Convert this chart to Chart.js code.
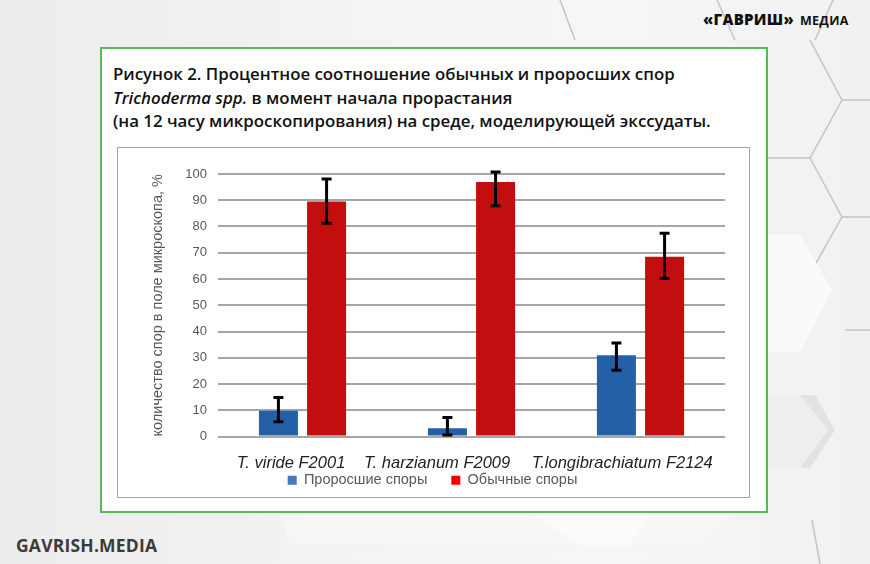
<!DOCTYPE html>
<html>
<head>
<meta charset="utf-8">
<script src="https://cdn.jsdelivr.net/npm/chart.js@4.4.1/dist/chart.umd.min.js"></script>
<style>
  html, body { margin: 0; padding: 0; }
  body { width: 870px; height: 564px; position: relative; overflow: hidden;
         background: linear-gradient(90deg, #ececec 0%, #f3f3f3 40%, #f6f6f6 70%, #f1f1f1 100%);
         font-family: "Open Sans", "Liberation Sans", sans-serif; }
  #bg { position: absolute; left: 0; top: 0; }
  #logoTop { position: absolute; left: 703px; top: 9px; font-weight: 800; font-size: 15px; color: #111; white-space: nowrap; letter-spacing: 0.3px; }
  #logoTop span { font-size: 12.5px; font-weight: 700; margin-left: 6px; }
  #logoBottom { position: absolute; left: 16px; top: 533px; font-weight: 700; font-size: 17.5px; color: #3b3b3b; letter-spacing: 0.2px; }
  #frame { position: absolute; left: 100px; top: 47px; width: 664px; height: 462px; border: 2.5px solid #55b955; background: #fff; }
  #title { position: absolute; left: 113px; top: 62px; font-weight: 600; font-size: 17px; line-height: 23.5px; color: #111;
           transform: scaleX(0.99); transform-origin: 0 0; white-space: nowrap; }
  #inner { position: absolute; left: 117px; top: 147px; width: 631px; height: 349px; border: 1.5px solid #a6a6a6; background: #fff; }
  #wrap { position: absolute; left: 118px; top: 148px; width: 632px; height: 350px; }
</style>
</head>
<body>
<svg id="bg" width="870" height="564" xmlns="http://www.w3.org/2000/svg">
  <g fill="none" stroke="#c4c4c4" stroke-width="1.5">
    <polyline points="810,40 842,100 870,100"/>
    <polyline points="842,100 810,158 760,158"/>
    <polyline points="810,158 842,217 870,217"/>
    <polyline points="842,217 815,265"/>
    <polyline points="717,0 735,40"/>
    <polyline points="833,0 815,40"/>
    <polyline points="560,0 575,40"/>
    <polyline points="845,330 870,330"/>
    <polyline points="812,520 820,564"/>
  </g>
  <polygon points="760,235 800,235 832,290 800,352 760,352" fill="#fafafa"/>
  <polygon points="760,395 815,395 835,430 810,468 760,468" fill="#e2e2e2"/>
  <polygon points="760,395 800,395 828,430 800,468 760,468" fill="#f7f7f7" opacity="0.6"/>
  <polygon points="280,513 730,513 700,545 290,545" fill="#f8f8f8" opacity="0.7"/>
  <polygon points="530,513 580,545 630,545 650,513" fill="#fbfbfb"/>
</svg>
<div id="logoTop">«ГАВРИШ»<span>МЕДИА</span></div>
<div id="logoBottom">GAVRISH.MEDIA</div>
<div id="frame"></div>
<div id="title">Рисунок 2. Процентное соотношение обычных и проросших спор<br><i>Trichoderma spp.</i> в момент начала прорастания<br>(на 12 часу микроскопирования) на среде, моделирующей экссудаты.</div>
<div id="inner"></div>
<div id="wrap"><canvas id="c" width="632" height="350"></canvas></div>
<script>
// ---- data ----
const categories = ["T. viride F2001", "T. harzianum F2009", "T.longibrachiatum F2124"];
const labelShiftSpaces = [5, 15, 8]; // reference labels sit left of group centres
const seriesNames = ["Проросшие споры", "Обычные споры"];
const sprouted = [9.8, 3.1, 31.0];
const sproutedErrLow = [5.6, 0.6, 25.2];
const sproutedErrHigh = [14.9, 7.2, 35.6];
const ordinary = [89.5, 97.0, 68.5];
const ordinaryErrLow = [81.2, 87.9, 60.2];
const ordinaryErrHigh = [98.1, 100.8, 77.4];
const yTicks = [0, 10, 20, 30, 40, 50, 60, 70, 80, 90, 100];
const yTitle = "количество спор в поле микроскопа, %";

const barColors = ["#2460a8", "#c20e0e"];
const legendColors = ["#4675c5", "#f20000"];

const errorLow = [sproutedErrLow, ordinaryErrLow];
const errorHigh = [sproutedErrHigh, ordinaryErrHigh];

const errorBars = {
  id: 'errorBars',
  afterDatasetsDraw(chart) {
    const ctx = chart.ctx;
    const y = chart.scales.y;
    ctx.save();
    ctx.strokeStyle = '#000';
    ctx.lineWidth = 3;
    chart.data.datasets.forEach((ds, di) => {
      const meta = chart.getDatasetMeta(di);
      meta.data.forEach((bar, i) => {
        const x = bar.x;
        const yl = y.getPixelForValue(errorLow[di][i]);
        const yh = y.getPixelForValue(errorHigh[di][i]);
        const cap = 5;
        ctx.beginPath();
        ctx.moveTo(x, yl); ctx.lineTo(x, yh);
        ctx.moveTo(x - cap, yl); ctx.lineTo(x + cap, yl);
        ctx.moveTo(x - cap, yh); ctx.lineTo(x + cap, yh);
        ctx.stroke();
      });
    });
    ctx.restore();
  }
};

// move the legend box to where the reference has it
const legendPlace = {
  id: 'legendPlace',
  afterLayout(chart) {
    const lg = chart.legend;
    const dx = 11;
    const dy = 301 - lg.top;
    lg.left += dx; lg.right += dx;
    lg.top += dy; lg.bottom += dy;
  }
};

new Chart(document.getElementById('c'), {
  type: 'bar',
  data: {
    labels: categories.map((c, i) => c + ' '.repeat(labelShiftSpaces[i])),
    datasets: [
      { label: seriesNames[0], data: sprouted, backgroundColor: barColors[0] },
      { label: seriesNames[1], data: ordinary, backgroundColor: barColors[1] }
    ]
  },
  options: {
    responsive: false,
    animation: false,
    devicePixelRatio: 1,
    layout: { padding: { left: 0, right: 25, top: 26, bottom: -27 } },
    datasets: { bar: { categoryPercentage: 0.57, barPercentage: 0.81 } },
    scales: {
      x: {
        grid: { display: false, drawTicks: false },
        border: { display: false },
        ticks: { color: '#222', padding: 17, maxRotation: 0, autoSkip: false,
                 font: { family: 'Liberation Sans', size: 16.5, style: 'italic' } },
        afterFit(s) { s.height = 40; s.paddingLeft = 0; s.paddingRight = 0; }
      },
      y: {
        min: 0, max: 100,
        afterBuildTicks(s) { s.ticks = yTicks.map(v => ({ value: v })); },
        grid: { color: '#a6a6a6', lineWidth: 2, drawTicks: false },
        border: { display: false },
        ticks: { color: '#595959', padding: 11, font: { family: 'Liberation Sans', size: 13 } },
        title: { display: true, text: yTitle, color: '#595959', padding: { top: 31, bottom: 0 },
                 font: { family: 'Liberation Sans', size: 14.5 } },
        afterFit(s) { s.width = 100; s.paddingTop = 0; s.paddingBottom = 0; }
      }
    },
    plugins: {
      tooltip: { enabled: false },
      legend: {
        position: 'bottom',
        labels: {
          boxWidth: 9, boxHeight: 9, padding: 24, color: '#595959',
          font: { family: 'Liberation Sans', size: 14.5 },
          generateLabels(chart) {
            return chart.data.datasets.map((ds, i) => ({
              text: ds.label, fillStyle: legendColors[i], strokeStyle: legendColors[i],
              lineWidth: 0, hidden: false, datasetIndex: i, fontColor: '#595959'
            }));
          }
        }
      }
    }
  },
  plugins: [errorBars, legendPlace]
});
</script>
</body>
</html>
